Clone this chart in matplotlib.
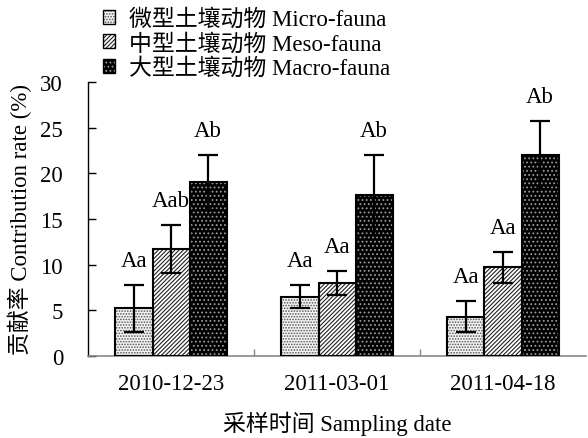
import matplotlib
matplotlib.use('Agg')
import matplotlib.pyplot as plt
from matplotlib.patches import Patch
import numpy as np

plt.rcParams['font.family'] = ['Liberation Serif', 'Noto Sans CJK SC']
plt.rcParams['hatch.linewidth'] = 0.8

dates = ['2010-12-23', '2011-03-01', '2011-04-18']
groups = ['微型土壤动物 Micro-fauna', '中型土壤动物 Meso-fauna', '大型土壤动物 Macro-fauna']

micro = [5.2, 6.5, 4.3]
meso = [11.7, 8.0, 9.7]
macro = [19.0, 17.6, 22.0]
micro_err = [2.6, 1.3, 1.7]
meso_err = [2.6, 1.3, 1.7]
macro_err = [3.0, 4.4, 3.7]
micro_lab = ['Aa', 'Aa', 'Aa']
meso_lab = ['Aab', 'Aa', 'Aa']
macro_lab = ['Ab', 'Ab', 'Ab']

# face colour, hatch, hatch colour
styles = [('#f4f4f4', '......', '#555555'),
          ('white', '////////', '#222222'),
          ('black', '....', '#9a9a9a')]

fs = 16.5
fig = plt.figure(figsize=(5.88, 4.39), dpi=100)
ax = fig.add_axes([0.1497, 0.1868, 0.8469, 0.6242])

x = np.arange(len(dates)) + 0.5
w = 0.223
handles = []
for k, (vals, errs, labs) in enumerate([(micro, micro_err, micro_lab),
                                         (meso, meso_err, meso_lab),
                                         (macro, macro_err, macro_lab)]):
    fc, hatch, hc = styles[k]
    pos = x + (k - 1) * w
    ax.bar(pos, vals, w, color=fc, hatch=hatch, edgecolor=hc, linewidth=0, zorder=2)
    ax.bar(pos, vals, w, fill=False, edgecolor='black', linewidth=1.5, zorder=3)
    ax.errorbar(pos, vals, yerr=errs, fmt='none', ecolor='black', elinewidth=1.6,
                capsize=7, capthick=1.6, zorder=4)
    for p, v, e, t in zip(pos, vals, errs, labs):
        ax.text(p, v + e + 2.7, t, ha='center', va='center', fontsize=fs)
    handles.append((Patch(facecolor=fc, hatch=hatch, edgecolor=hc, linewidth=0),
                    Patch(fill=False, edgecolor='black', linewidth=1.0)))

ax.set_xlim(0, 3)
ax.set_ylim(0, 30)
ax.set_yticks(range(0, 31, 5))
ax.tick_params(axis='y', direction='in', length=6, width=1, labelsize=fs, pad=18)
ax.set_xticks([1, 2])
ax.set_xticklabels([])
ax.set_xticks(x, minor=True)
ax.set_xticklabels(dates, minor=True)
ax.tick_params(axis='x', which='major', direction='in', length=5, width=1, color='#888888')
ax.tick_params(axis='x', which='minor', length=0, labelsize=fs, pad=12)

for s in ['top', 'right']:
    ax.spines[s].set_visible(False)
ax.spines['bottom'].set_color('#888888')
ax.spines['bottom'].set_linewidth(1.2)
ax.spines['left'].set_linewidth(1.0)

ax.set_ylabel('贡献率 Contribution rate (%)', fontsize=fs, labelpad=6)
ax.set_xlabel('采样时间 Sampling date', fontsize=fs, labelpad=12)

fig.legend(handles, groups, loc='upper left', bbox_to_anchor=(0.155, 1.005),
           frameon=False, fontsize=fs, handlelength=0.55, handleheight=0.55,
           handletextpad=0.6, labelspacing=0.12, borderaxespad=0.1)

fig.savefig('out.png', dpi=100)
